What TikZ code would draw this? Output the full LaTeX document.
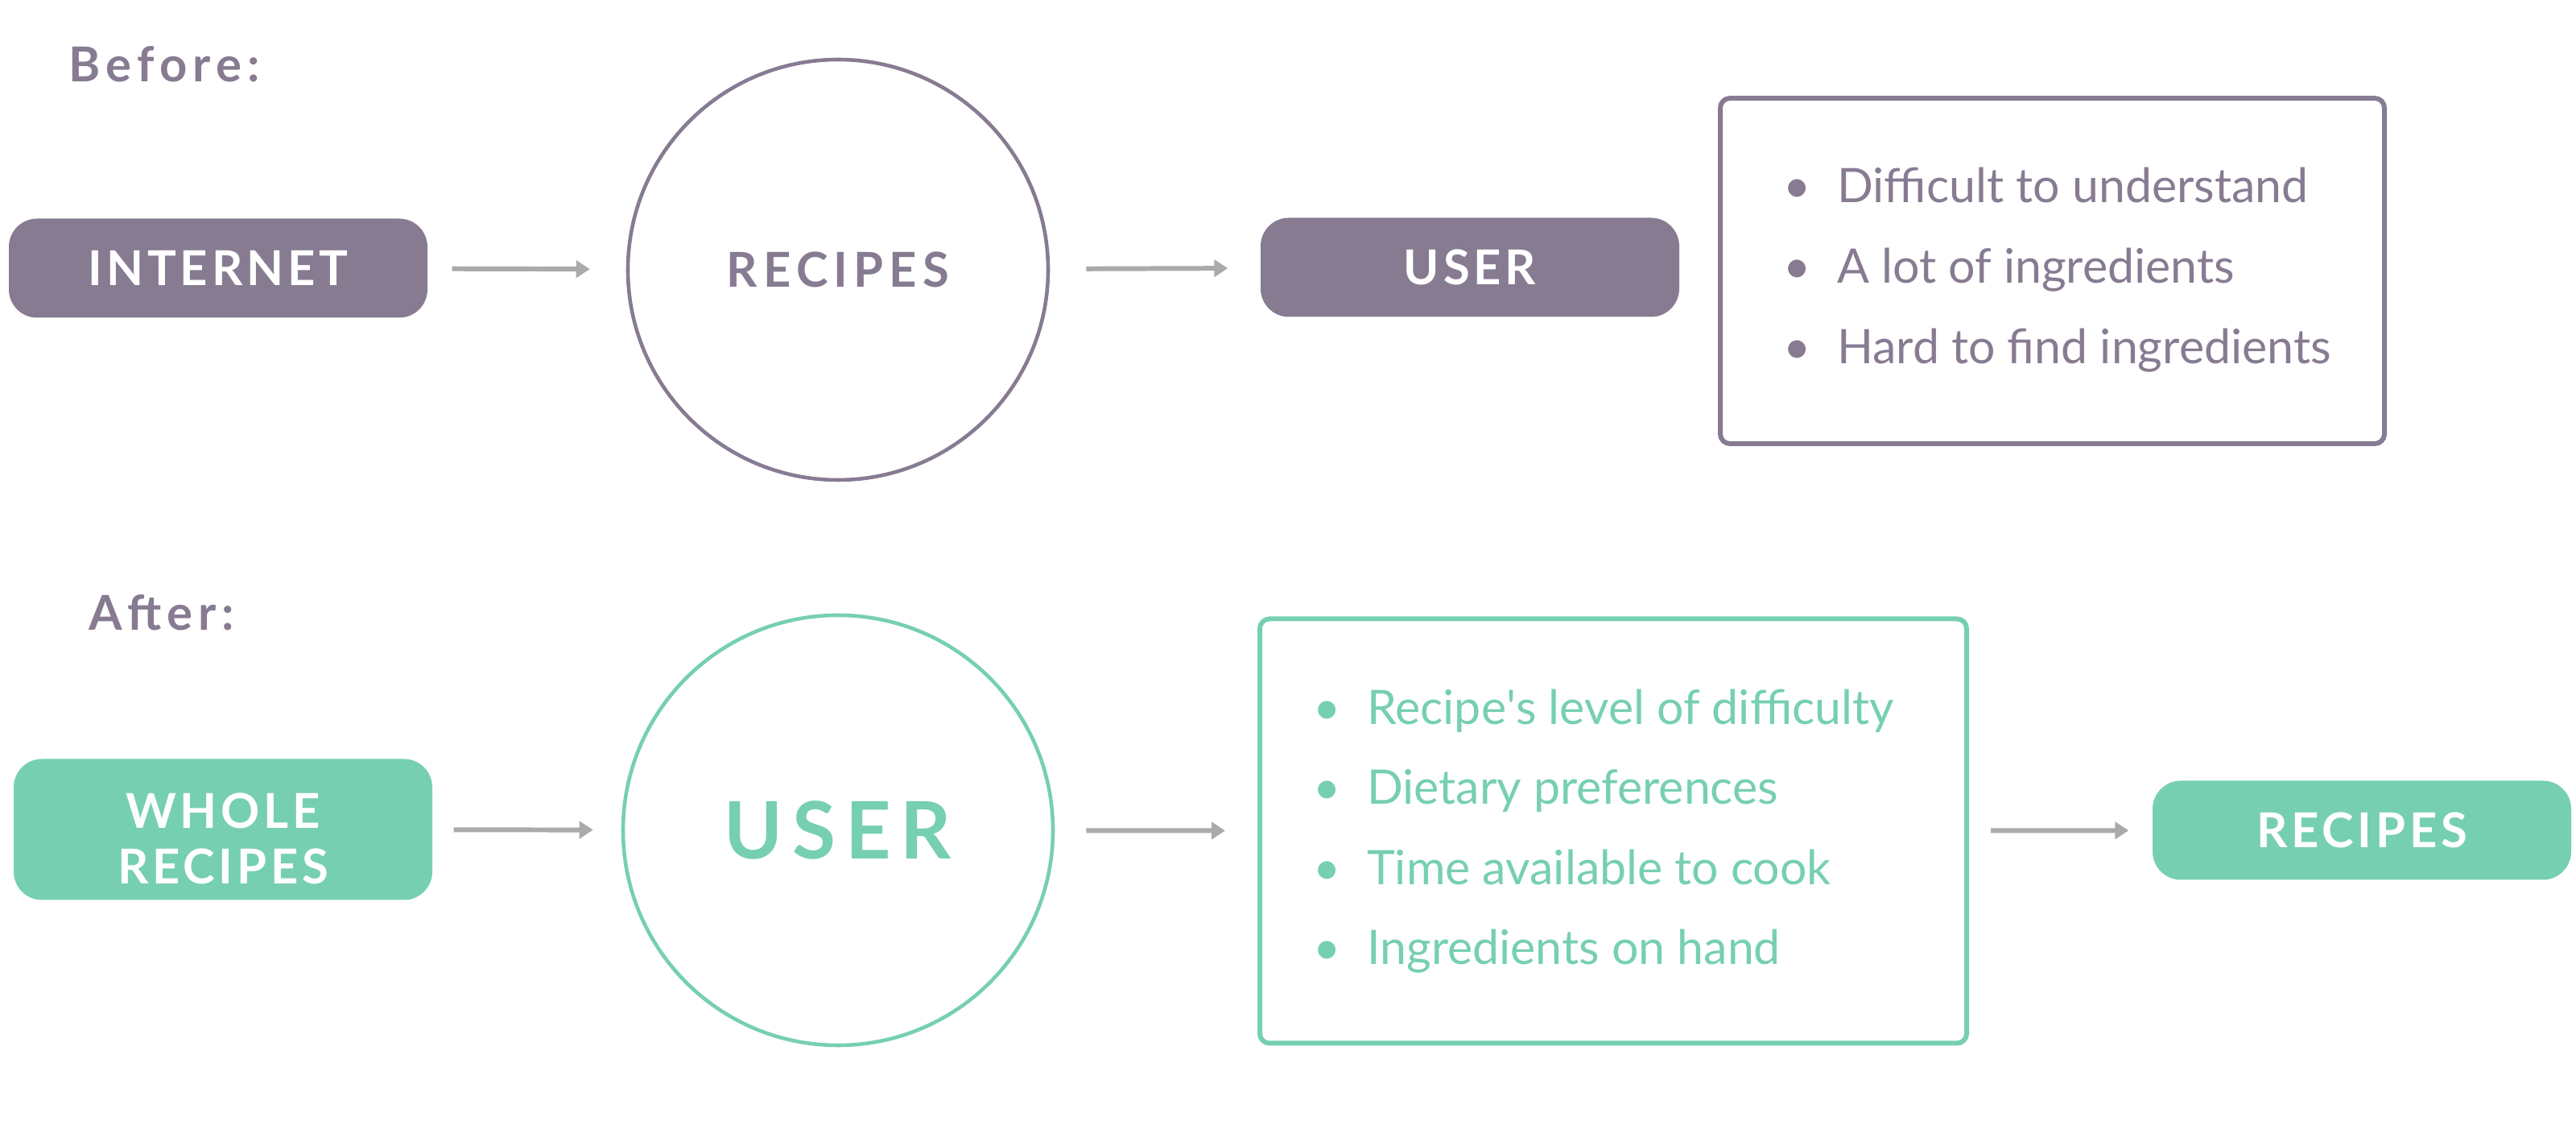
\documentclass[tikz,border=0pt]{standalone}
\usepackage{fontspec}
\setmainfont{Lato}
\newfontfamily\spacedfont{Lato}[LetterSpace=12]
\newfontfamily\pillfont{Lato}[LetterSpace=8]
\usepackage{tikz}
\usetikzlibrary{arrows.meta, positioning, calc}

\definecolor{plum}{RGB}{135,123,146}
\definecolor{mint}{RGB}{118,207,177}
\definecolor{arrowgrey}{RGB}{170,170,170}

\newcommand{\dotitem}{\llap{\makebox[0.3cm]{•}\hspace{0.35cm}}}

\begin{document}
\begin{tikzpicture}[
        pill/.style={
            rectangle,
            rounded corners=0.35cm,
            fill=#1,
            text=white,
            minimum width=5.2cm,
            minimum height=1.23cm,
            inner sep=0pt,
            align=center,
            font=\pillfont\bfseries\fontsize{17}{19.5}\selectfont
        },
        ring/.style={
            circle,
            draw=#1,
            line width=1.3pt,
            inner sep=0pt
        },
        listbox/.style={
            rectangle,
            draw=#1,
            line width=1.7pt,
            rounded corners=0.12cm,
            inner sep=0pt
        },
        item/.style={
            anchor=base west,
            inner sep=0pt,
            text=#1,
            font=\fontsize{16.8}{20}\selectfont
        },
        heading/.style={
            anchor=base west,
            inner sep=0pt,
            text=plum,
            font=\spacedfont\bfseries\fontsize{17}{20}\selectfont
        },
        flow/.style={
            -{Triangle[length=0.17cm, width=0.21cm]},
            draw=arrowgrey,
            line width=1.7pt
        }
    ]

    \useasboundingbox (0,0) rectangle (32,13.92);

    % before
    \node[heading] (before) at (0.85, 12.90) {Before:};

    \node[pill=plum] (internet) at (2.71, 10.59) {INTERNET};
    \node[ring=plum, minimum size=5.22cm, text=plum,
          font=\spacedfont\bfseries\fontsize{17}{20}\selectfont] (recipesA) at (10.41, 10.57) {RECIPES};
    \node[pill=plum] (userA) at (18.26, 10.60) {USER};
    \node[listbox=plum, minimum width=8.25cm, minimum height=4.29cm] (problems) at (25.495, 10.555) {};

    \node[item=plum] (p1) at (22.815, 11.40) {\dotitem Difficult to understand};
    \node[item=plum] (p2) at (22.815, 10.40) {\dotitem A lot of ingredients};
    \node[item=plum] (p3) at (22.815, 9.40)  {\dotitem Hard to find ingredients};

    \draw[flow, shorten <=0.30cm, shorten >=0.45cm] (internet) -- (recipesA);
    \draw[flow, shorten <=0.45cm, shorten >=0.40cm] (recipesA) -- (userA);

    % after
    \node[heading] (after) at (1.10, 6.09) {After:};

    \node[pill=mint, minimum height=1.75cm] (whole) at (2.77, 3.62) {\rule{0pt}{18.8pt}WHOLE\\RECIPES};
    \node[ring=mint, minimum size=5.34cm, text=mint,
          font=\spacedfont\bfseries\fontsize{28}{30}\selectfont] (userB) at (10.41, 3.61) {USER};
    \node[listbox=mint, minimum width=8.78cm, minimum height=5.27cm] (needs) at (20.04, 3.6) {};

    \node[item=mint] (n1) at (16.975, 4.92) {\dotitem Recipe\textquotesingle s level of difficulty};
    \node[item=mint] (n2) at (16.975, 3.93) {\dotitem Dietary preferences};
    \node[item=mint] (n3) at (16.975, 2.93) {\dotitem Time available to cook};
    \node[item=mint] (n4) at (16.975, 1.94) {\dotitem Ingredients on hand};

    \node[pill=mint] (recipesB) at (29.34, 3.61) {RECIPES};

    \draw[flow, shorten <=0.26cm, shorten >=0.35cm] (whole) -- (userB);
    \draw[flow, shorten <=0.39cm, shorten >=0.40cm] (userB) -- (needs);
    \draw[flow, shorten <=0.27cm, shorten >=0.29cm] (needs) -- (recipesB);

\end{tikzpicture}
\end{document}
